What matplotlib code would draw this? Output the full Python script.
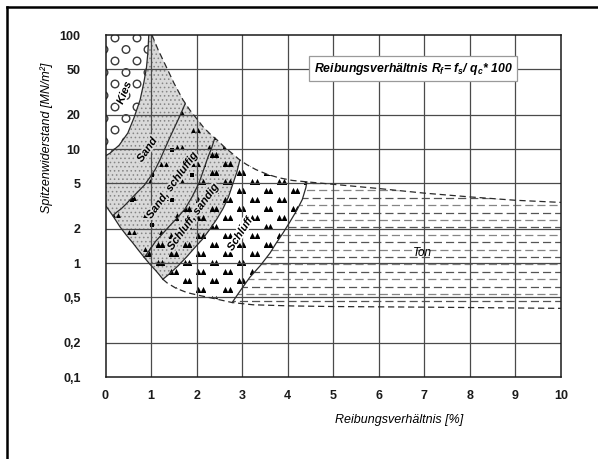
import numpy as np
import matplotlib
matplotlib.use('Agg')
import matplotlib.pyplot as plt
import matplotlib.patheffects as pe
from matplotlib.patches import Polygon
from matplotlib.lines import Line2D
from matplotlib.ticker import NullLocator, FixedLocator, FixedFormatter

plt.rcParams['font.family'] = ['Liberation Sans', 'DejaVu Sans']
plt.rcParams['mathtext.fontset'] = 'custom'
plt.rcParams['mathtext.rm'] = 'Liberation Sans:italic:bold'
plt.rcParams['mathtext.it'] = 'Liberation Sans:italic:bold'
plt.rcParams['mathtext.bf'] = 'Liberation Sans:italic:bold'
plt.rcParams['hatch.linewidth'] = 0.6

# ---------------- data ----------------
x_ticks = [0, 1, 2, 3, 4, 5, 6, 7, 8, 9, 10]
y_ticks = [0.1, 0.2, 0.5, 1, 2, 5, 10, 20, 50, 100]
y_ticklabels = ['0,1', '0,2', '0,5', '1', '2', '5', '10', '20', '50', '100']

# upper (dashed) limit of the classification field
upper_x = [1.02, 1.15, 1.35, 1.5, 1.7, 1.85, 2.0, 2.15, 2.3, 2.45, 2.6, 2.8, 2.95, 3.1, 3.3,
           3.55, 3.8, 4.1, 4.42, 5.0, 6.0, 7.0, 8.0, 9.0, 10.0]
upper_q = [100, 75, 51, 38, 27, 22, 18.5, 15.5, 13.5, 12, 10.5, 9.0, 8.0, 7.3, 6.6,
           6.0, 5.6, 5.3, 5.15, 4.9, 4.5, 4.1, 3.8, 3.55, 3.4]
# lower-left solid limit
left_x = [0.0, 0.05, 0.16, 0.32, 0.46, 0.6, 0.72, 0.85, 0.97, 1.09, 1.18, 1.26]
left_q = [3.2, 3.0, 2.6, 2.07, 1.75, 1.5, 1.3, 1.12, 0.98, 0.87, 0.79, 0.72]
# lower dashed limit
lower_x = [1.26, 1.35, 1.55, 1.79, 2.05, 2.36, 2.78, 3.24, 4.1, 5.0, 7.0, 10.0]
lower_q = [0.72, 0.67, 0.6, 0.55, 0.52, 0.49, 0.45, 0.43, 0.42, 0.415, 0.41, 0.40]
# zone boundaries (top -> bottom)
kies_x = [0.95, 0.93, 0.9, 0.84, 0.76, 0.63, 0.49, 0.3, 0.1, 0.0]
kies_q = [100, 70, 52, 38, 27, 19, 13.8, 10.8, 9.2, 8.7]
sand_x = [1.75, 1.62, 1.5, 1.4, 1.3, 1.2, 1.09, 0.97, 0.85, 0.72, 0.6, 0.47, 0.35, 0.25, 0.16]
sand_q = [25, 19, 15, 12.3, 10, 8.1, 6.6, 5.6, 4.8, 4.25, 3.8, 3.35, 3.0, 2.8, 2.6]
sschl_x = [2.4, 2.33, 2.25, 2.15, 2.05, 1.9, 1.75, 1.58, 1.4, 1.25, 1.1, 0.97, 0.85]
sschl_q = [12.5, 10.2, 8.5, 6.5, 5.0, 3.8, 3.0, 2.5, 2.1, 1.8, 1.55, 1.3, 1.12]
schls_x = [2.95, 2.88, 2.8, 2.7, 2.58, 2.45, 2.3, 2.13, 1.95, 1.78, 1.6, 1.43, 1.26]
schls_q = [8.0, 6.2, 5.0, 3.8, 3.0, 2.45, 2.0, 1.62, 1.35, 1.13, 0.95, 0.82, 0.72]
schl_x = [4.42, 4.4, 4.32, 4.2, 4.05, 3.9, 3.75, 3.61, 3.4, 3.17, 2.97, 2.78]
schl_q = [5.15, 4.6, 3.6, 2.9, 2.3, 1.84, 1.5, 1.22, 0.95, 0.75, 0.58, 0.45]

zone_names = ['Kies', 'Sand', 'Sand, schluffig', 'Schluff, sandig', 'Schluff', 'Ton']

# ---------------- figure ----------------
W, H = 598, 459
fig = plt.figure(figsize=(W / 100, H / 100), dpi=100)
AXL, AXR, AXT, AXB = 105.5, 561, 35, 377
AW, AH = AXR - AXL, AXB - AXT
ax = fig.add_axes([AXL / W, 1 - AXB / H, AW / W, AH / H])
ax.set_xlim(0, 10)
ax.set_yscale('log')
ax.set_ylim(0.1, 100)

bottom_x = left_x + lower_x[1:]
bottom_q = left_q + lower_q[1:]


def pts(xs, qs):
    return list(zip(xs, qs))


def between(xs, qs, a, b):
    lo, hi = min(a, b), max(a, b)
    return [(x, q) for x, q in zip(xs, qs) if lo < x < hi]


def zone(P, Q):
    """P, Q: boundaries listed top -> bottom."""
    bot = between(bottom_x, bottom_q, P[-1][0], Q[-1][0])
    bot.sort(key=lambda p: p[0])
    up = between(upper_x, upper_q, P[0][0], Q[0][0])
    up.sort(key=lambda p: -p[0])
    return P + bot + Q[::-1] + up


kies_line = pts(kies_x, kies_q)
A = pts(sand_x, sand_q)
B = pts(sschl_x, sschl_q)
C = pts(schls_x, schls_q)
D = pts(schl_x, schl_q)
R = [(10, upper_q[-1]), (10, lower_q[-1])]

poly_kies = [(0, 100)] + kies_line
poly_sand = zone(kies_line + [(0, left_q[0])], A)
poly_ss = zone(A, B)
poly_sls = zone(B, C)
poly_sl = zone(C, D)
poly_ton = zone(D, R)

stip_fc, stip_ec = '#d9d9d9', '#858585'
patches = {}
for name, poly, fc, hatch in [
        ('kies', poly_kies, 'white', None),
        ('sand', poly_sand, stip_fc, '....'),
        ('ss', poly_ss, stip_fc, '....'),
        ('sls', poly_sls, stip_fc, '....'),
        ('sl', poly_sl, 'white', None),
        ('ton', poly_ton, 'white', None)]:
    p = Polygon(poly, closed=True, facecolor=fc, edgecolor=stip_ec if hatch else 'none',
                lw=0, hatch=hatch, zorder=1)
    ax.add_patch(p)
    patches[name] = p


def lattice(dx, dy, shift, x0, y0):
    xs, ys = [], []
    i = 0
    y = y0
    while y < AH + dy:
        x = x0 + (i % 2) * shift - dx
        while x < AW + dx:
            xs.append(x / AW)
            ys.append(1 - y / AH)
            x += dx
        y += dy
        i += 1
    return np.array(xs), np.array(ys)


# gravel circles
cx, cy = lattice(22, 11.5, 11, 9.5, 3)
sc = ax.scatter(cx, cy, s=30, facecolors='none', edgecolors='#3a3a3a', linewidths=1.0,
                transform=ax.transAxes, zorder=1.5)
sc.set_clip_path(patches['kies'])


def marks(dx, dy, shift, x0, y0, clip, s=14):
    mx, my = lattice(dx, dy, shift, x0, y0)
    off = 2.4 / AW
    for o in (-off, off):
        m = ax.scatter(mx + o, my, s=s, marker='^', color='black', linewidths=0,
                       transform=ax.transAxes, zorder=1.6)
        m.set_clip_path(clip)


marks(27, 9, 13.5, 14, 2, patches['sl'])
marks(27, 9, 13.5, 14, 2, patches['sls'])
marks(32, 17, 16, 42, 10, patches['ss'], s=12)
qx, qy = lattice(40, 25, 20, 66, 115)
sq = ax.scatter(qx, qy, s=7, marker='s', color='black', linewidths=0,
                transform=ax.transAxes, zorder=1.6)
sq.set_clip_path(patches['ss'])

# clay dashes
yrow = 148.0
k = 0
while yrow < 276:
    yf = 1 - yrow / AH
    ln, = ax.plot([0, 1], [yf, yf], transform=ax.transAxes,
                  color='#555555' if k % 2 == 0 else '#858585', lw=0.9,
                  linestyle=((k % 2) * 4.5, (6.5, 3.2)), zorder=1.5)
    ln.set_clip_path(patches['ton'])
    yrow += 7.4
    k += 1

# grid
for xv in x_ticks[1:-1]:
    ax.axvline(xv, color='#4a4a4a', lw=0.9, zorder=2)
for yv in y_ticks[1:-1]:
    ax.axhline(yv, color='#4a4a4a', lw=0.9, zorder=2)

# boundaries
lc = '#2a2a2a'
for xs, qs in [(kies_x, kies_q), (sand_x, sand_q), (sschl_x, sschl_q),
               (schls_x, schls_q), (schl_x, schl_q), (left_x, left_q)]:
    ax.plot(xs, qs, color=lc, lw=0.9, zorder=3, solid_joinstyle='round')
for xs, qs in [(upper_x, upper_q), (lower_x, lower_q)]:
    ax.plot(xs, qs, color=lc, lw=0.9, zorder=3, dashes=(5, 3))

# labels of the zones
lab = dict(ha='center', va='center', rotation_mode='anchor', fontsize=8,
           fontweight='bold', style='italic', zorder=2.5)


def halo(c):
    return [pe.withStroke(linewidth=2.6, foreground=c)]


ax.text(0.41, 31, zone_names[0], rotation=68, path_effects=halo('white'), **lab)
ax.text(0.91, 9.8, zone_names[1], rotation=55, path_effects=halo(stip_fc), **lab)
ax.text(1.46, 4.8, zone_names[2], rotation=54, path_effects=halo(stip_fc), **lab)
ax.text(1.92, 2.54, zone_names[3], rotation=54, path_effects=halo(stip_fc), **lab)
ax.text(2.95, 1.79, zone_names[4], rotation=57, path_effects=halo('white'), **lab)
ax.text(6.95, 1.22, zone_names[5], ha='center', va='center', fontsize=8.5,
        style='italic', zorder=4)

ax.text(6.75, 50.8, r'Reibungsverhältnis $R_f$= $f_s$/ $q_c$* 100', ha='center', va='center',
        fontsize=8.8, style='italic', fontweight='bold', zorder=5,
        bbox=dict(boxstyle='square,pad=0.35', fc='white', ec='#9a9a9a', lw=0.9))

# axes cosmetics
ax.xaxis.set_major_locator(FixedLocator(x_ticks))
ax.yaxis.set_major_locator(FixedLocator(y_ticks))
ax.yaxis.set_major_formatter(FixedFormatter(y_ticklabels))
ax.yaxis.set_minor_locator(NullLocator())
ax.xaxis.set_minor_locator(NullLocator())
ax.tick_params(axis='x', length=0, pad=9.5, labelsize=9)
ax.tick_params(axis='y', length=0, pad=18, labelsize=9)
for t in ax.get_xticklabels() + ax.get_yticklabels():
    t.set_fontweight('bold')
    t.set_color('#1a1a1a')
for sp in ax.spines.values():
    sp.set_linewidth(1.1)
    sp.set_color('#1a1a1a')
    sp.set_zorder(6)

fig.text(47 / W, 1 - 138 / H, 'Spitzenwiderstand [MN/m²]', rotation=90, ha='center',
         va='center', fontsize=9, style='italic')
fig.text(399 / W, 1 - 420 / H, 'Reibungsverhältnis [%]', ha='center', va='center',
         fontsize=9, style='italic')

# outer frame (top and left edges visible)
fig.add_artist(Line2D([7 / W, 7 / W], [0, 1 - 7 / H], transform=fig.transFigure,
                      color='black', lw=1.8))
fig.add_artist(Line2D([7 / W, 1], [1 - 7 / H, 1 - 7 / H], transform=fig.transFigure,
                      color='black', lw=1.8))

fig.savefig('out.png', dpi=100)
